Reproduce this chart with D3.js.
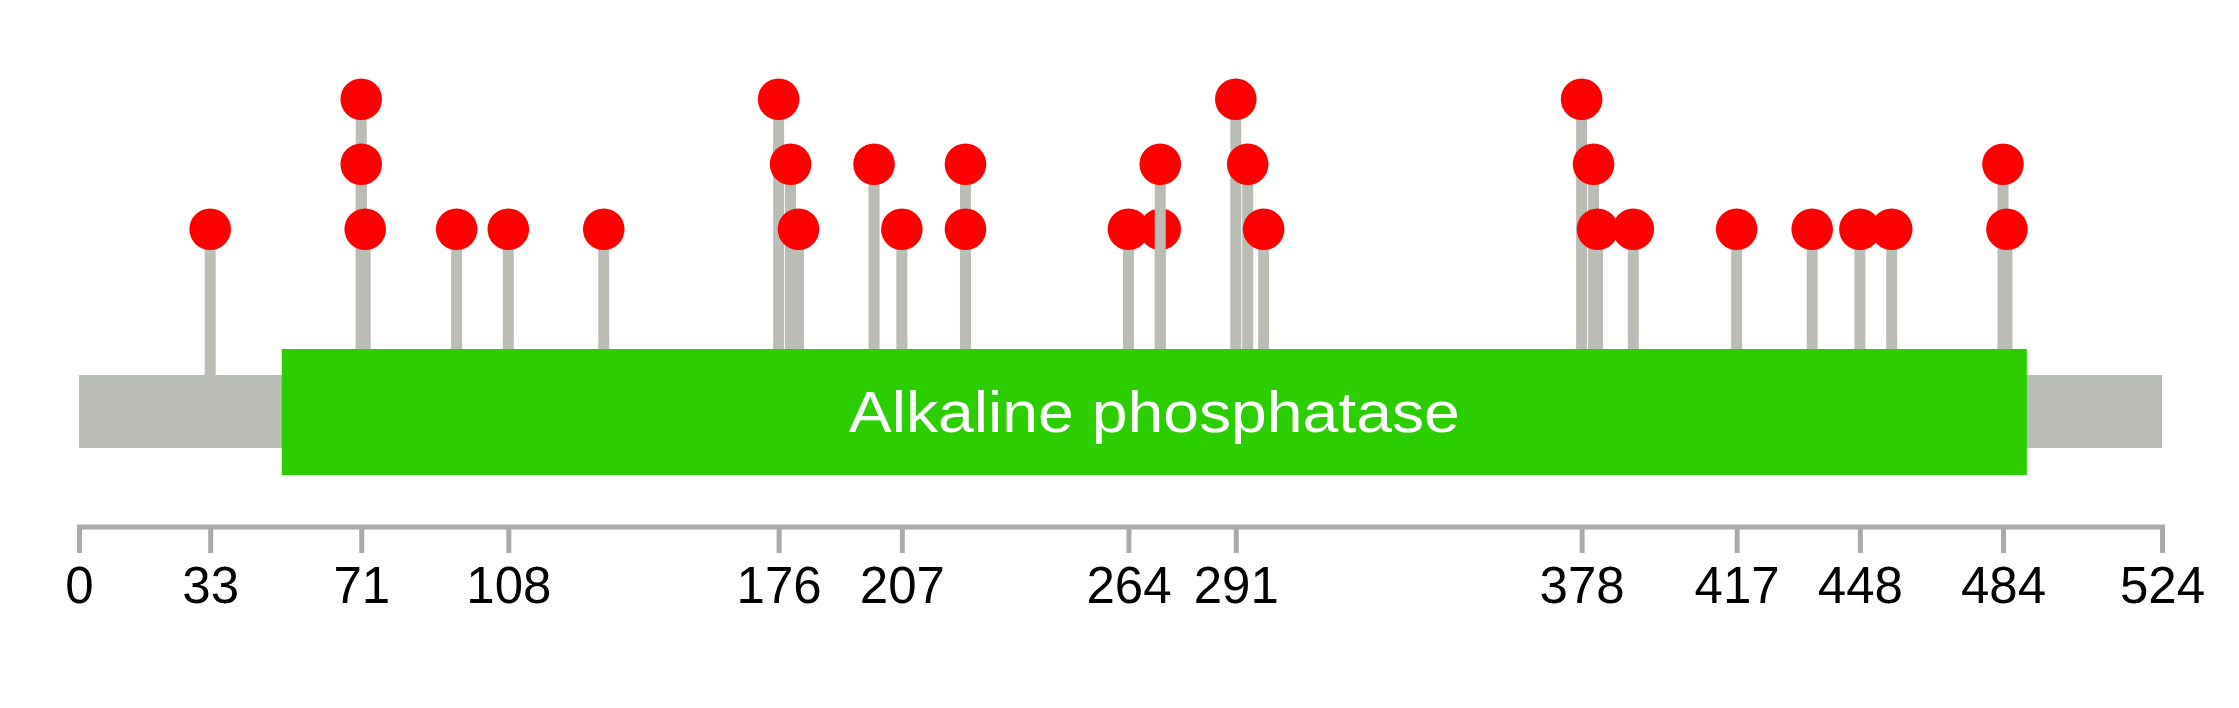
<!DOCTYPE html>
<html>
<head>
<meta charset="utf-8">
<script src="https://cdn.jsdelivr.net/npm/d3@7"></script>
<style>
  html, body { margin: 0; padding: 0; background: #ffffff; }
  svg { display: block; }
</style>
</head>
<body>
<script>
// ---- data ----
const proteinLength = 524;
const domainName = ["Alkaline phosphatase"];
const domainStart = [51];
const domainEnd = [490];
// mutation positions and stacked level (drawn in this order)
const mutPos   = [33, 71, 71, 72, 95, 108, 132, 176, 179, 181, 200, 207, 223, 223, 264, 272, 272, 291, 294, 298, 378, 381, 382, 391, 417, 436, 448, 456, 484, 485];
const mutLevel = [1,  3,  2,  1,  1,  1,   1,   3,   2,   1,   2,   1,   2,   1,   1,   1,   2,   3,   2,   1,   3,   2,   1,   1,   1,   1,   1,   1,   2,   1];
const tickLabels = [0, 33, 71, 108, 176, 207, 264, 291, 378, 417, 448, 484, 524];

// ---- layout ----
const W = 2239, H = 708;
const svg = d3.select("body").append("svg").attr("width", W).attr("height", H);

const x = d3.scaleLinear().domain([0, proteinLength]).range([79, 2162]);
const y = d3.scaleLinear().domain([1, 3]).range([229.3, 99.3]);

const backboneTop = 375, backboneBottom = 448;
const domainTop = 349, domainBottom = 475;
const gray = "#babdb6";
const red = "#ff0000";
const green = "#2dce00";

const muts = mutPos.map((p, i) => ({ pos: p, level: mutLevel[i] }));

// lollipops: stem then head, in order
const lol = svg.append("g").attr("class", "lollipops");
muts.forEach(m => {
  lol.append("line")
    .attr("x1", x(m.pos)).attr("x2", x(m.pos))
    .attr("y1", y(m.level)).attr("y2", backboneTop)
    .attr("stroke", gray).attr("stroke-width", 11);
  lol.append("circle")
    .attr("cx", x(m.pos)).attr("cy", y(m.level))
    .attr("r", 20.8).attr("fill", red);
});

// backbone
svg.append("rect")
  .attr("x", x(0)).attr("y", backboneTop)
  .attr("width", x(proteinLength) - x(0))
  .attr("height", backboneBottom - backboneTop)
  .attr("fill", gray);

// domains
const dom = svg.append("g").selectAll("g").data(domainName).join("g");
dom.append("rect")
  .attr("x", (d, i) => x(domainStart[i]))
  .attr("y", domainTop)
  .attr("width", (d, i) => x(domainEnd[i]) - x(domainStart[i]))
  .attr("height", domainBottom - domainTop)
  .attr("fill", green);
dom.append("text")
  .attr("x", (d, i) => (x(domainStart[i]) + x(domainEnd[i])) / 2)
  .attr("y", 432)
  .attr("text-anchor", "middle")
  .attr("font-family", "Arial, 'Liberation Sans', Helvetica, sans-serif")
  .attr("font-size", 57)
  .attr("fill", "#ffffff")
  .attr("textLength", 611)
  .attr("lengthAdjust", "spacingAndGlyphs")
  .text(d => d);

// axis
const axis = d3.axisBottom(x).tickValues(tickLabels).tickSize(26.5).tickSizeOuter(0).tickFormat(d3.format("d"));
const ag = svg.append("g").attr("transform", "translate(0,526.5)").call(axis);
ag.select(".domain").attr("stroke", "#aaaaaa").attr("stroke-width", 5).attr("stroke-linecap", "square");
ag.selectAll(".tick line").attr("stroke", "#aaaaaa").attr("stroke-width", 5);
ag.selectAll(".tick text")
  .attr("y", 76.5).attr("dy", null)
  .attr("font-family", "Arial, 'Liberation Sans', Helvetica, sans-serif")
  .attr("font-size", 51)
  .attr("fill", "#000000");
</script>
</body>
</html>
